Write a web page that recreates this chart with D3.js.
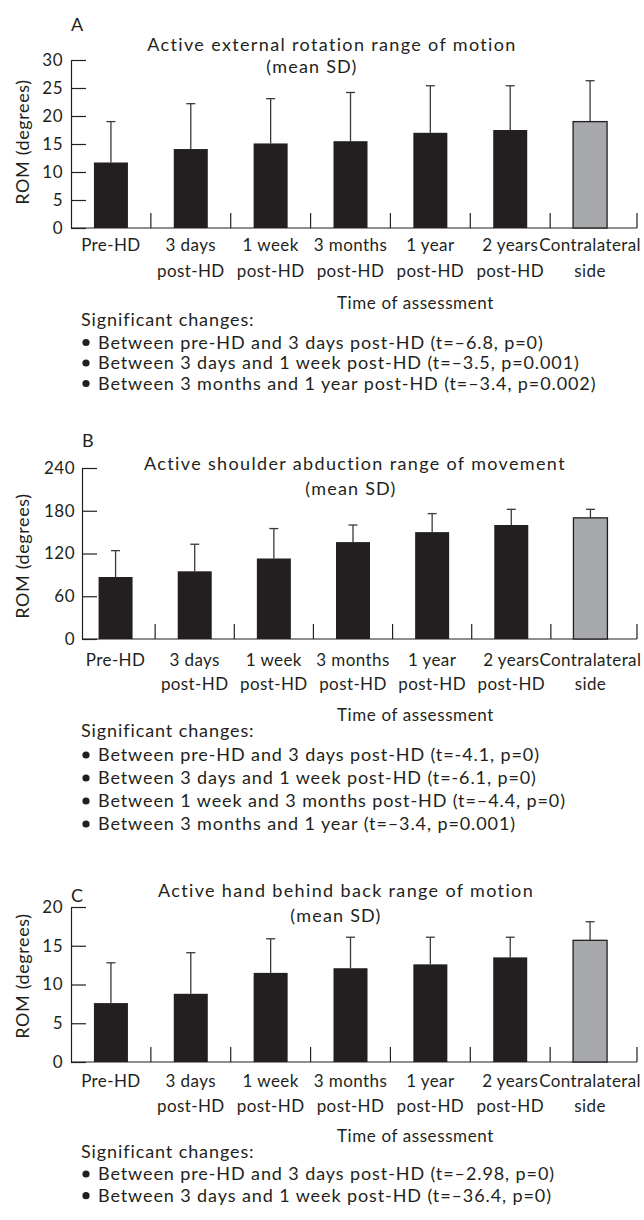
<!DOCTYPE html>
<html>
<head>
<meta charset="utf-8">
<script src="https://cdn.jsdelivr.net/npm/d3@7"></script>
<style>
  body { margin: 0; background: #fff; }
  text { font-family: Lato, "Open Sans", sans-serif; fill: #231f20; }
</style>
</head>
<body>
<div id="plot"></div>
<script>
// data
const catTop = ["Pre-HD", "3 days", "1 week", "3 months", "1 year", "2 years", "Contralateral"];
const catBottom = ["", "post-HD", "post-HD", "post-HD", "post-HD", "post-HD", "side"];

const rotationMean = [11.7, 14.1, 15.1, 15.5, 17.0, 17.5, 19.0];
const rotationSD = [7.3, 8.1, 8.0, 8.7, 8.4, 7.9, 7.3];
const rotationTicks = [0, 5, 10, 15, 20, 25, 30];

const abductionMean = [87, 95, 113, 136, 150, 160, 170];
const abductionSD = [37, 38, 42, 24, 26, 22, 12];
const abductionTicks = [0, 60, 120, 180, 240];

const handMean = [7.6, 8.8, 11.5, 12.1, 12.6, 13.5, 15.7];
const handSD = [5.2, 5.3, 4.4, 4.0, 3.5, 2.6, 2.4];
const handTicks = [0, 5, 10, 15, 20];

const rotationNotes = [
  "Between pre-HD and 3 days post-HD (t=\u20136.8, p=0)",
  "Between 3 days and 1 week post-HD (t=\u20133.5, p=0.001)",
  "Between 3 months and 1 year post-HD (t=\u20133.4, p=0.002)"
];
const abductionNotes = [
  "Between pre-HD and 3 days post-HD (t=-4.1, p=0)",
  "Between 3 days and 1 week post-HD (t=-6.1, p=0)",
  "Between 1 week and 3 months post-HD (t=\u20134.4, p=0)",
  "Between 3 months and 1 year (t=\u20133.4, p=0.001)"
];
const handNotes = [
  "Between pre-HD and 3 days post-HD (t=\u20132.98, p=0)",
  "Between 3 days and 1 week post-HD (t=\u201336.4, p=0)"
];

const w = 644;
const h = 1220;
const ink = "#231f20";
const xEnd = 637;

const svg = d3.select("div#plot")
  .append("svg")
  .attr("width", w)
  .attr("height", h);

svg.append("rect")
  .attr("width", w)
  .attr("height", h)
  .attr("fill", "white");

function drawPanel(p) {
  const g = svg.append("g");

  const xScale = d3.scaleBand()
    .domain(catTop)
    .range([p.bandStart, 630]);
  const barW = 34;

  const yScale = d3.scaleLinear()
    .domain([0, d3.max(p.ticks)])
    .range([p.yBottom, p.yTop]);

  // panel letter
  g.append("text")
    .attr("x", p.axisX)
    .attr("y", p.letterY)
    .attr("font-size", 18)
    .text(p.letter);

  // title
  g.append("text")
    .attr("x", p.t1x)
    .attr("y", p.t1y)
    .attr("text-anchor", "middle")
    .attr("font-size", 18)
    .attr("letter-spacing", 1.35)
    .text(p.title);
  g.append("text")
    .attr("x", p.t2x)
    .attr("y", p.t2y)
    .attr("text-anchor", "middle")
    .attr("font-size", 18)
    .attr("letter-spacing", 1.2)
    .text("(mean SD)");

  // y axis
  const yAxis = g.append("g")
    .attr("transform", `translate(${p.axisX},0)`)
    .call(d3.axisLeft(yScale)
      .tickValues(p.ticks)
      .tickSizeInner(-15)
      .tickSizeOuter(0)
      .tickPadding(p.tickPad));
  yAxis.selectAll("path, line").attr("stroke", ink).attr("stroke-width", 1.2);
  yAxis.selectAll("text")
    .attr("font-size", 17)
    .attr("letter-spacing", 0.5)
    .style("font-family", "Lato, sans-serif")
    .attr("fill", ink);

  g.append("text")
    .attr("transform", `translate(29,${p.yTitleY}) rotate(-90)`)
    .attr("text-anchor", "middle")
    .attr("font-size", 18)
    .attr("letter-spacing", 0.6)
    .text("ROM (degrees)");

  // x axis line and separators
  g.append("line")
    .attr("x1", p.axisX).attr("x2", xEnd)
    .attr("y1", p.yBottom).attr("y2", p.yBottom)
    .attr("stroke", ink).attr("stroke-width", 1.2);
  const seps = catTop.slice(1).map(c => xScale(c)).concat([xEnd]);
  g.selectAll(".sep")
    .data(seps)
    .enter()
    .append("line")
    .attr("x1", d => d).attr("x2", d => d)
    .attr("y1", p.yBottom).attr("y2", p.yBottom - 15)
    .attr("stroke", ink).attr("stroke-width", 1.2);

  // error bars (upper only)
  const rows = catTop.map((c, i) => ({cat: c, mean: p.mean[i], sd: p.sd[i], last: i === catTop.length - 1}));
  const cx = d => xScale(d.cat) + xScale.bandwidth() / 2;

  g.selectAll(".err")
    .data(rows)
    .enter()
    .append("line")
    .attr("x1", cx).attr("x2", cx)
    .attr("y1", d => yScale(d.mean)).attr("y2", d => yScale(d.mean + d.sd))
    .attr("stroke", "#3a3a3a").attr("stroke-width", 1.3);
  g.selectAll(".cap")
    .data(rows)
    .enter()
    .append("line")
    .attr("x1", d => cx(d) - 4.5).attr("x2", d => cx(d) + 4.5)
    .attr("y1", d => yScale(d.mean + d.sd)).attr("y2", d => yScale(d.mean + d.sd))
    .attr("stroke", "#3a3a3a").attr("stroke-width", 1.3);

  // bars
  g.selectAll(".bar")
    .data(rows)
    .enter()
    .append("rect")
    .attr("x", d => cx(d) - barW / 2)
    .attr("y", d => yScale(d.mean))
    .attr("width", barW)
    .attr("height", d => p.yBottom - yScale(d.mean))
    .attr("fill", d => d.last ? "#a7a9ac" : ink)
    .attr("stroke", d => d.last ? ink : "none")
    .attr("stroke-width", 1.3);

  // category labels
  g.selectAll(".lab1")
    .data(catTop)
    .enter()
    .append("text")
    .attr("x", d => xScale(d) + xScale.bandwidth() / 2)
    .attr("y", p.lab1Y)
    .attr("text-anchor", "middle")
    .attr("font-size", 17)
    .attr("letter-spacing", 0.4)
    .text(d => d);
  g.selectAll(".lab2")
    .data(catBottom)
    .enter()
    .append("text")
    .attr("x", (d, i) => xScale(catTop[i]) + xScale.bandwidth() / 2)
    .attr("y", p.lab2Y)
    .attr("text-anchor", "middle")
    .attr("font-size", 17)
    .attr("letter-spacing", 0.4)
    .text(d => d);

  g.append("text")
    .attr("x", 337)
    .attr("y", p.timeY)
    .attr("font-size", 17)
    .attr("letter-spacing", 0.6)
    .text("Time of assessment");

  // significant changes
  g.append("text")
    .attr("x", 81)
    .attr("y", p.sigY)
    .attr("font-size", 18)
    .attr("letter-spacing", 0.9)
    .text("Significant changes:");

  const notes = g.selectAll(".note")
    .data(p.notes)
    .enter()
    .append("g")
    .attr("transform", (d, i) => `translate(0,${p.noteY0 + i * p.noteStep})`);
  notes.append("circle")
    .attr("cx", 86).attr("cy", -6).attr("r", 3.6)
    .attr("fill", ink);
  notes.append("text")
    .attr("x", 98)
    .attr("y", 0)
    .attr("font-size", 18)
    .attr("letter-spacing", 0.9)
    .text(d => d);
}

drawPanel({
  letter: "A", title: "Active external rotation range of motion",
  mean: rotationMean, sd: rotationSD, ticks: rotationTicks, notes: rotationNotes,
  axisX: 71, bandStart: 71, yTop: 60, yBottom: 228, tickPad: 8,
  letterY: 31, t1x: 332, t1y: 51, t2x: 312, t2y: 73, yTitleY: 142,
  lab1Y: 251, lab2Y: 277, timeY: 309, sigY: 326, noteY0: 348.5, noteStep: 20.5
});

drawPanel({
  letter: "B", title: "Active shoulder abduction range of movement",
  mean: abductionMean, sd: abductionSD, ticks: abductionTicks, notes: abductionNotes,
  axisX: 82, bandStart: 76, yTop: 468, yBottom: 639, tickPad: 7,
  letterY: 447, t1x: 355, t1y: 470, t2x: 351, t2y: 495, yTitleY: 556,
  lab1Y: 666, lab2Y: 690, timeY: 721, sigY: 737, noteY0: 761, noteStep: 23
});

drawPanel({
  letter: "C", title: "Active hand behind back range of motion",
  mean: handMean, sd: handSD, ticks: handTicks, notes: handNotes,
  axisX: 71, bandStart: 71, yTop: 907, yBottom: 1062, tickPad: 8,
  letterY: 902, t1x: 346, t1y: 897, t2x: 336, t2y: 922, yTitleY: 976,
  lab1Y: 1087, lab2Y: 1112, timeY: 1142, sigY: 1158, noteY0: 1180, noteStep: 21.7
});
</script>
</body>
</html>
